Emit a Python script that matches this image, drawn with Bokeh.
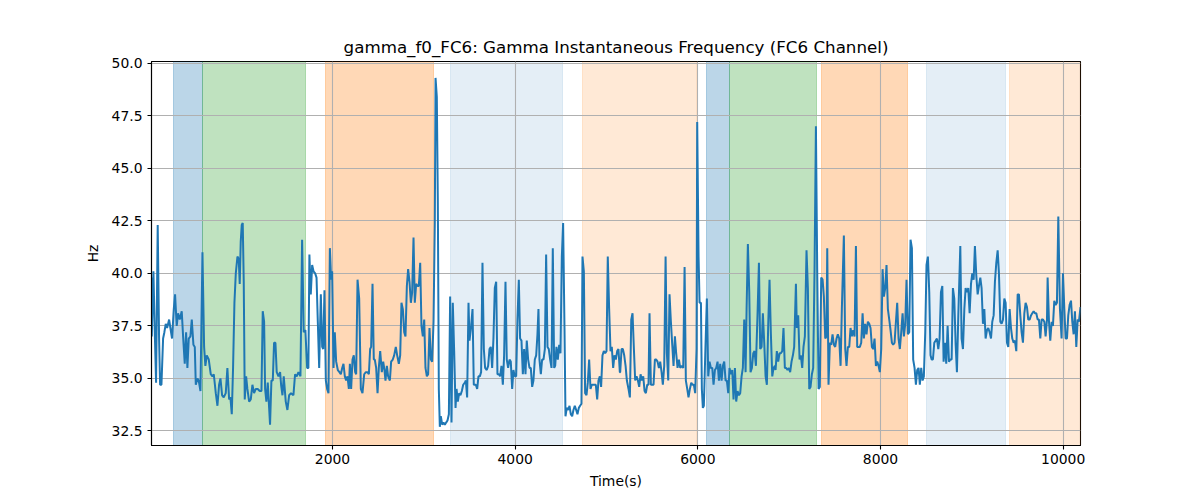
from bokeh.plotting import figure
from bokeh.models import FixedTicker, PrintfTickFormatter, Range1d
from bokeh.embed import file_html
from bokeh.resources import INLINE

# ---------------- data ----------------
t1 = [18, 21, 39, 54, 68, 86, 101, 112, 127, 145, 159, 174, 189, 211, 225, 243, 262, 276, 294, 309,
      327, 349, 364, 382, 397, 411, 426, 444, 459, 477, 492, 503, 521, 535, 554, 576, 594, 608, 623, 645,
      667, 685, 700, 722, 740, 758, 773, 791, 809, 831, 849, 868, 882, 897, 911, 926, 941, 959, 973, 984,
      995, 1006, 1017, 1028, 1039, 1054, 1068, 1087, 1105, 1123, 1141, 1160, 1181, 1203, 1222, 1236, 1251, 1262, 1276, 1291,
      1306, 1316, 1331, 1346, 1360, 1375, 1389, 1408, 1426, 1437, 1452, 1466, 1488, 1506, 1525, 1546, 1572, 1590, 1608, 1627,
      1649, 1667, 1685, 1703, 1722, 1736, 1747, 1762]
v1 = [39.8, 37.0, 40.1, 37.2, 34.8, 42.3, 36.9, 34.7, 34.7, 36.9, 37.2, 37.6, 37.4, 37.8, 37.4, 36.9, 38.3, 39.0, 37.5, 38.1,
      37.8, 38.2, 37.0, 35.7, 37.2, 35.5, 36.9, 37.0, 37.8, 36.6, 36.5, 34.7, 35.0, 34.9, 34.4, 41.0, 36.5, 35.6, 36.1, 35.9,
      35.2, 35.1, 35.2, 34.3, 33.7, 34.7, 35.0, 34.2, 34.1, 34.3, 35.5, 34.0, 34.1, 33.3, 35.5, 38.6, 40.0, 40.8, 40.7, 39.5,
      41.5, 42.3, 42.4, 39.6, 34.0, 35.1, 34.5, 33.9, 34.0, 34.7, 34.3, 34.5, 34.5, 34.4, 34.4, 38.2, 37.7, 34.5, 33.9, 34.8,
      33.6, 32.8, 34.9, 34.9, 36.7, 36.7, 35.3, 35.1, 35.3, 34.7, 34.2, 35.1, 33.9, 33.5, 34.2, 34.3, 34.2, 35.2, 35.1, 35.3,
      35.1, 41.6, 37.2, 37.3, 35.5, 35.5, 40.9, 39.0]

t2 = [1777, 1792, 1810, 1825, 1839, 1854, 1872, 1887, 1898, 1912, 1927, 1941, 1956, 1971, 1985, 1996, 2011, 2025, 2040, 2058,
      2076, 2091, 2106, 2120, 2135, 2149, 2164, 2179, 2190, 2204, 2219, 2233, 2248, 2259, 2274, 2292, 2310, 2328, 2347, 2365,
      2383, 2398, 2412, 2423, 2438, 2452, 2463, 2478, 2493, 2507, 2522, 2540, 2555, 2569, 2580, 2595, 2609, 2628, 2642, 2660,
      2675, 2693, 2708, 2726, 2741, 2755, 2770, 2785, 2799, 2814, 2828, 2843, 2858, 2872, 2887, 2901, 2916, 2931, 2945, 2960,
      2974, 2989, 3004, 3018, 3033, 3047, 3062, 3077, 3091, 3106, 3120, 3128, 3142, 3153, 3164, 3175, 3186, 3201, 3215, 3230,
      3244, 3259, 3274, 3288, 3303, 3317, 3332, 3347, 3358, 3372, 3387, 3401, 3416, 3431, 3449]
v2 = [40.4, 40.1, 40.0, 39.8, 37.7, 35.5, 39.0, 36.5, 36.4, 39.2, 34.9, 34.5, 34.3, 41.2, 39.7, 40.1, 35.5, 37.2, 35.8, 35.4,
      35.3, 35.2, 35.5, 35.7, 35.1, 34.9, 35.1, 34.5, 35.7, 34.5, 35.9, 36.1, 35.3, 35.2, 39.7, 38.8, 34.5, 34.3, 35.2, 35.3,
      35.3, 35.2, 36.4, 36.5, 39.5, 35.9, 35.9, 35.5, 34.3, 35.5, 36.3, 35.3, 35.8, 35.4, 34.9, 35.6, 35.1, 34.9, 35.8, 35.9,
      36.1, 36.5, 36.1, 35.7, 36.1, 38.6, 38.3, 37.2, 37.0, 39.4, 40.2, 39.6, 38.6, 39.1, 41.7, 38.6, 39.5, 39.4, 39.4, 40.5,
      37.5, 37.0, 37.8, 35.5, 35.1, 35.2, 37.4, 35.9, 35.8, 37.7, 42.4, 49.3, 48.4, 43.5, 34.5, 32.7, 33.2, 32.8, 32.9, 32.8,
      32.9, 33.0, 33.3, 38.9, 32.9, 38.6, 36.3, 33.6, 34.5, 33.9, 34.3, 34.2, 34.4, 34.7, 34.8]

t3 = [3460, 3474, 3489, 3500, 3518, 3533, 3547, 3569, 3584, 3598, 3613, 3627, 3642, 3657, 3671, 3689, 3704, 3719, 3733, 3748,
      3762, 3777, 3792, 3806, 3821, 3835, 3850, 3865, 3879, 3894, 3908, 3923, 3938, 3952, 3967, 3981, 3996, 4011, 4025, 4040,
      4054, 4069, 4084, 4098, 4113, 4127, 4142, 4157, 4171, 4186, 4200, 4215, 4230, 4244, 4255, 4266, 4281, 4295, 4310, 4325,
      4339, 4354, 4368, 4383, 4398, 4412, 4427, 4438, 4452, 4467, 4482, 4496, 4511, 4525, 4540, 4551, 4565, 4580, 4595, 4609,
      4624, 4638, 4653, 4668, 4682, 4697, 4711, 4726, 4737, 4752, 4766, 4781, 4795, 4810, 4825, 4839, 4854, 4868, 4883, 4898,
      4912, 4927, 4941, 4956, 4971, 4985, 5000, 5014, 5029, 5044, 5058, 5073, 5087, 5102, 5117, 5131, 5146]
v3 = [34.9, 34.1, 38.6, 36.8, 37.5, 38.3, 34.7, 34.7, 34.5, 35.1, 35.1, 35.3, 40.5, 36.4, 35.5, 35.4, 35.6, 36.4, 36.5, 35.5,
      36.9, 39.3, 39.6, 35.2, 35.2, 35.1, 35.6, 34.7, 36.1, 39.6, 35.9, 35.5, 35.9, 35.8, 34.5, 35.4, 35.1, 35.1, 37.8, 39.7,
      36.9, 36.8, 35.2, 36.4, 35.2, 36.8, 35.9, 35.5, 35.5, 34.6, 34.9, 35.9, 36.1, 37.1, 38.3, 35.9, 35.2, 35.9, 35.9, 36.4,
      40.9, 36.5, 36.4, 35.9, 35.5, 41.2, 35.5, 35.6, 36.5, 35.9, 36.6, 36.2, 40.8, 42.4, 37.4, 33.2, 33.6, 33.5, 33.7, 33.3,
      33.2, 33.5, 33.7, 33.5, 33.3, 33.6, 33.7, 33.8, 40.8, 40.1, 34.3, 34.2, 34.8, 35.9, 34.5, 34.7, 34.7, 34.7, 34.7, 34.0,
      34.9, 35.1, 34.6, 36.1, 36.3, 36.2, 36.3, 40.8, 38.3, 36.3, 36.5, 35.5, 36.1, 35.9, 36.3, 36.4, 35.3]

t4 = [5150, 5165, 5179, 5194, 5209, 5223, 5241, 5256, 5271, 5285, 5300, 5314, 5329, 5344, 5358, 5373, 5387, 5402, 5417, 5431,
      5446, 5460, 5471, 5486, 5501, 5515, 5530, 5544, 5559, 5574, 5588, 5603, 5617, 5632, 5647, 5661, 5676, 5690, 5705, 5720,
      5734, 5749, 5763, 5778, 5793, 5807, 5822, 5840, 5855, 5869, 5884, 5898, 5913, 5928, 5942, 5957, 5971, 5986, 5993, 6008,
      6019, 6034, 6044, 6055, 6066, 6081, 6099, 6114, 6128, 6143, 6158, 6172, 6187, 6201, 6216, 6231, 6245, 6260, 6274, 6289,
      6304, 6318, 6333, 6347, 6362, 6377, 6391, 6406, 6420, 6435, 6450, 6464, 6479, 6493, 6508, 6523, 6534, 6548, 6563, 6577,
      6592, 6607, 6621, 6636, 6654, 6669, 6683, 6698, 6712, 6727, 6742, 6756, 6771, 6785, 6800, 6815, 6829, 6844]
v4 = [35.3, 36.4, 36.4, 36.1, 35.6, 34.9, 34.5, 34.1, 37.8, 38.1, 36.4, 34.9, 35.1, 34.9, 34.6, 35.2, 34.9, 35.1, 34.4, 34.3,
      34.7, 34.7, 38.1, 34.7, 34.7, 34.7, 35.9, 35.9, 35.8, 35.5, 35.8, 35.3, 34.7, 35.6, 40.8, 36.2, 34.9, 39.0, 37.7, 36.6,
      35.6, 37.0, 36.2, 35.5, 35.9, 35.5, 35.6, 35.5, 40.3, 34.9, 34.5, 34.1, 34.5, 34.8, 34.7, 34.7, 34.3, 36.4, 47.2, 40.8,
      38.6, 38.6, 34.5, 33.6, 33.7, 36.1, 38.8, 35.1, 35.8, 35.5, 35.5, 34.7, 35.4, 35.5, 35.8, 34.9, 35.7, 34.9, 35.6, 35.8,
      34.9, 34.9, 34.3, 35.5, 35.2, 35.4, 34.0, 35.5, 33.9, 34.4, 34.2, 34.3, 35.1, 35.5, 37.8, 35.3, 38.3, 41.4, 39.1, 35.3,
      35.5, 36.2, 36.3, 35.6, 38.1, 40.5, 36.4, 36.5, 38.1, 36.7, 35.1, 34.7, 37.6, 39.7, 37.1, 35.1, 35.5, 35.6]

t5 = [6851, 6865, 6880, 6895, 6909, 6924, 6938, 6953, 6968, 6982, 6997, 7011, 7026, 7041, 7055, 7074, 7084, 7099, 7114, 7128,
      7143, 7157, 7172, 7190, 7205, 7220, 7234, 7249, 7263, 7278, 7293, 7307, 7322, 7336, 7351, 7366, 7380, 7395, 7409, 7417,
      7431, 7446, 7460, 7475, 7490, 7504, 7519, 7533, 7548, 7563, 7577, 7599, 7614, 7628, 7643, 7658, 7672, 7687, 7701, 7716,
      7731, 7745, 7760, 7774, 7789, 7804, 7818, 7833, 7847, 7862, 7877, 7891, 7906, 7920, 7935, 7950, 7964, 7979, 7993, 8008,
      8023, 8037, 8052, 8066, 8081, 8096, 8110, 8125, 8139, 8154, 8169, 8183, 8198, 8212, 8227, 8242, 8256, 8271, 8285, 8300,
      8315, 8329, 8344, 8358, 8373, 8388, 8402, 8417, 8431, 8446, 8461, 8475, 8490, 8504, 8519, 8534, 8548]
v5 = [35.4, 36.3, 35.8, 36.2, 36.2, 36.3, 37.4, 35.5, 35.5, 35.4, 35.5, 35.3, 35.8, 36.1, 36.5, 39.5, 37.4, 38.0, 35.9, 36.1,
      35.5, 36.5, 37.0, 41.1, 39.3, 34.5, 34.6, 35.2, 35.5, 40.2, 47.0, 40.2, 34.5, 34.6, 39.8, 39.7, 38.9, 36.9, 37.0, 41.2,
      34.7, 36.7, 36.6, 37.1, 36.6, 36.5, 36.9, 37.1, 36.9, 35.6, 38.3, 41.8, 36.4, 35.6, 36.5, 36.5, 37.4, 37.0, 37.3, 37.0,
      41.3, 36.5, 36.5, 36.5, 36.7, 38.1, 36.9, 37.6, 37.1, 37.7, 37.6, 37.4, 36.5, 36.4, 36.9, 35.6, 35.8, 35.6, 35.3, 36.4,
      40.2, 38.9, 39.3, 40.4, 38.3, 37.8, 37.3, 36.7, 36.6, 36.7, 37.7, 38.6, 36.9, 36.4, 37.2, 38.1, 37.0, 37.6, 39.7, 37.1,
      37.2, 41.6, 41.2, 35.9, 35.5, 34.7, 35.4, 35.5, 34.7, 35.5, 34.9, 35.1, 37.2, 40.4, 40.8, 39.1, 36.1]

t6 = [8560, 8574, 8589, 8604, 8618, 8633, 8647, 8662, 8677, 8691, 8706, 8720, 8735, 8750, 8764, 8779, 8793, 8808, 8823, 8837,
      8852, 8874, 8888, 8903, 8918, 8932, 8947, 8961, 8976, 8991, 9005, 9020, 9034, 9049, 9064, 9078, 9093, 9107, 9122, 9137,
      9151, 9166, 9180, 9195, 9210, 9224, 9239, 9253, 9268, 9283, 9297, 9312, 9326, 9341, 9356, 9370, 9385, 9399, 9414, 9429,
      9443, 9458, 9472, 9487, 9502, 9516, 9531, 9545, 9560, 9575, 9589, 9604, 9618, 9633, 9648, 9662, 9677, 9691, 9706, 9721,
      9735, 9750, 9764, 9779, 9794, 9808, 9823, 9830, 9845, 9859, 9874, 9888, 9903, 9918, 9932, 9947, 9965, 9983, 9998, 10013,
      10027, 10042, 10056, 10071, 10086, 10100, 10115, 10129, 10144, 10159, 10173, 10190]
v6 = [35.9, 35.9, 36.7, 36.8, 36.9, 36.4, 36.9, 39.1, 39.4, 35.8, 36.7, 35.7, 37.5, 35.8, 35.9, 35.9, 39.3, 38.8, 36.6, 35.3,
      38.0, 41.3, 36.9, 36.4, 38.3, 39.3, 39.1, 39.3, 38.1, 39.5, 40.0, 39.7, 41.3, 39.9, 39.0, 39.4, 39.8, 39.3, 37.6, 38.3,
      36.9, 37.3, 37.4, 37.2, 36.9, 37.7, 38.0, 39.6, 40.5, 41.1, 40.0, 37.7, 37.6, 37.8, 38.8, 38.6, 36.7, 36.5, 38.3, 37.4,
      36.9, 36.7, 36.8, 36.3, 39.0, 39.0, 38.0, 37.2, 36.7, 38.1, 38.6, 38.4, 37.8, 37.8, 38.0, 38.1, 38.2, 38.1, 38.1, 37.8,
      37.8, 36.9, 37.8, 37.8, 37.7, 37.0, 37.8, 39.8, 37.7, 36.8, 37.7, 37.5, 38.7, 38.5, 38.6, 42.7, 38.3, 36.9, 40.0, 38.3,
      36.9, 36.9, 38.0, 38.5, 38.7, 37.7, 37.1, 38.2, 36.5, 37.8, 37.7, 38.4]

# shaded phases (start, end in seconds) and their kind
phase_starts = [254, 576, 1927, 3295, 4741, 6099, 6343, 7359, 8509, 9418]
phase_ends = [576, 1700, 3106, 4519, 5990, 6343, 7300, 8297, 9374, 10190]
phase_kinds = ["a", "b", "c", "d", "e", "a", "b", "c", "d", "e"]

x_ticks = [2000, 4000, 6000, 8000, 10000]
y_ticks = [32.5, 35.0, 37.5, 40.0, 42.5, 45.0, 47.5, 50.0]

time = []
freq = []
for tt, vv in [(t1, v1), (t2, v2), (t3, v3), (t4, v4), (t5, v5), (t6, v6)]:
    if len(tt) != len(vv):
        raise ValueError("length mismatch %d %d" % (len(tt), len(vv)))
    time += tt
    freq += vv

# ---------------- figure ----------------
FONT = "DejaVu Sans"
p = figure(width=1184, height=492,
           x_range=Range1d(18, 10190), y_range=Range1d(31.81, 50.08),
           output_backend="svg", toolbar_location=None,
           min_border_left=151, min_border_right=104,
           min_border_top=61, min_border_bottom=47,
           title="gamma_f0_FC6: Gamma Instantaneous Frequency (FC6 Channel)")

p.title.align = "center"
p.title.text_font = FONT
p.title.text_font_size = "16.7px"
p.title.text_font_style = "normal"
p.title.text_color = "black"

styles = {
    "a": ("#1f77b4", 0.3),
    "b": ("#2ca02c", 0.3),
    "c": ("#ff7f0e", 0.3),
    "d": ("#1f77b4", 0.12),
    "e": ("#ff7f0e", 0.17),
}
for kind, (col, alpha) in styles.items():
    x0 = [s for s, k in zip(phase_starts, phase_kinds) if k == kind]
    x1 = [e for e, k in zip(phase_ends, phase_kinds) if k == kind]
    p.vstrip(x0=x0, x1=x1, fill_color=col, fill_alpha=alpha,
             line_color=col, line_alpha=alpha, line_width=1, level="image")

p.line(time, freq, line_color="#1f77b4", line_width=2)

p.xaxis.ticker = FixedTicker(ticks=x_ticks)
p.yaxis.ticker = FixedTicker(ticks=y_ticks)
p.xaxis.formatter = PrintfTickFormatter(format="%d")
p.yaxis.formatter = PrintfTickFormatter(format="%.1f")
p.xgrid.ticker = FixedTicker(ticks=x_ticks)
p.ygrid.ticker = FixedTicker(ticks=y_ticks)

for ax in (p.xaxis, p.yaxis):
    ax.major_label_text_font = FONT
    ax.major_label_text_font_size = "13.9px"
    ax.major_label_text_color = "black"
    ax.axis_label_text_font = FONT
    ax.axis_label_text_font_size = "13.9px"
    ax.axis_label_text_font_style = "normal"
    ax.axis_label_text_color = "black"
    ax.major_tick_in = 0
    ax.major_tick_out = 4
    ax.major_tick_line_color = "black"
    ax.major_tick_line_width = 1.1
    ax.minor_tick_line_color = None
    ax.axis_line_color = "black"
    ax.axis_line_width = 1.1
    ax.major_label_standoff = 4

p.yaxis.major_label_standoff = 5
p.xaxis.axis_label = "Time(s)"
p.yaxis.axis_label = "Hz"
p.xaxis.axis_label_standoff = 6
p.yaxis.axis_label_standoff = 8

for g in (p.xgrid, p.ygrid):
    g.grid_line_color = "#b0b0b0"
    g.grid_line_width = 1.1

p.outline_line_color = "black"
p.outline_line_width = 1.1
p.outline_line_alpha = 1
p.background_fill_color = "white"
p.border_fill_color = "white"

open("out.html", "w").write(file_html(p, INLINE))
